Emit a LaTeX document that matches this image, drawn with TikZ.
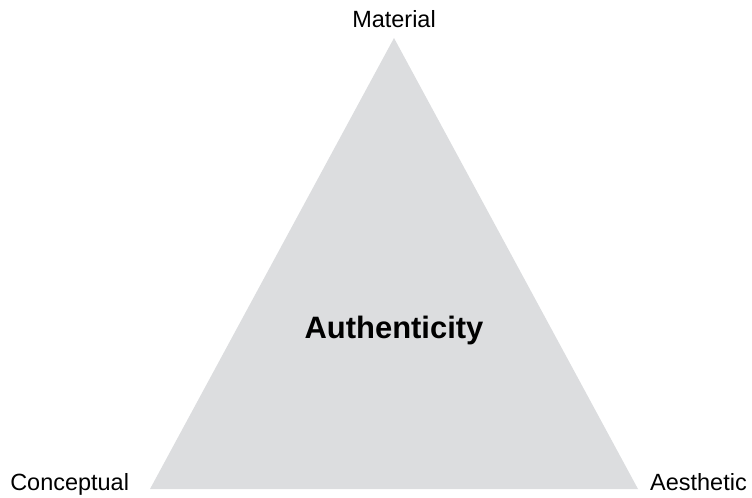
\documentclass[tikz,border=0pt]{standalone}
\usepackage{fontspec}
\setmainfont{Liberation Sans}
\usepackage{tikz}
\usetikzlibrary{positioning}
\definecolor{trigrey}{RGB}{220,221,223}

\begin{document}
\begin{tikzpicture}[x=0.75pt, y=-0.75pt,
    corner/.style={font=\fontsize{17.6}{20}\selectfont, text=black, inner sep=0pt},
    centre/.style={font=\fontsize{23.2}{26}\selectfont\bfseries, text=black, inner sep=0pt}
]
    \useasboundingbox (0,0) rectangle (752,497);
    \coordinate (top) at (394,38);
    \coordinate (left) at (150,489);
    \coordinate (right) at (638,489);
    \fill[trigrey] (top) -- (left) -- (right) -- cycle;

    \node[corner, anchor=base] (mat) at (394,27) {Material};
    \node[corner, anchor=base west] (con) at (10,490) {Conceptual};
    \node[corner, anchor=base east] (aes) at (747,490) {Aesthetic};
    \node[centre, anchor=base] (auth) at (394,338) {Authenticity};
\end{tikzpicture}
\end{document}
